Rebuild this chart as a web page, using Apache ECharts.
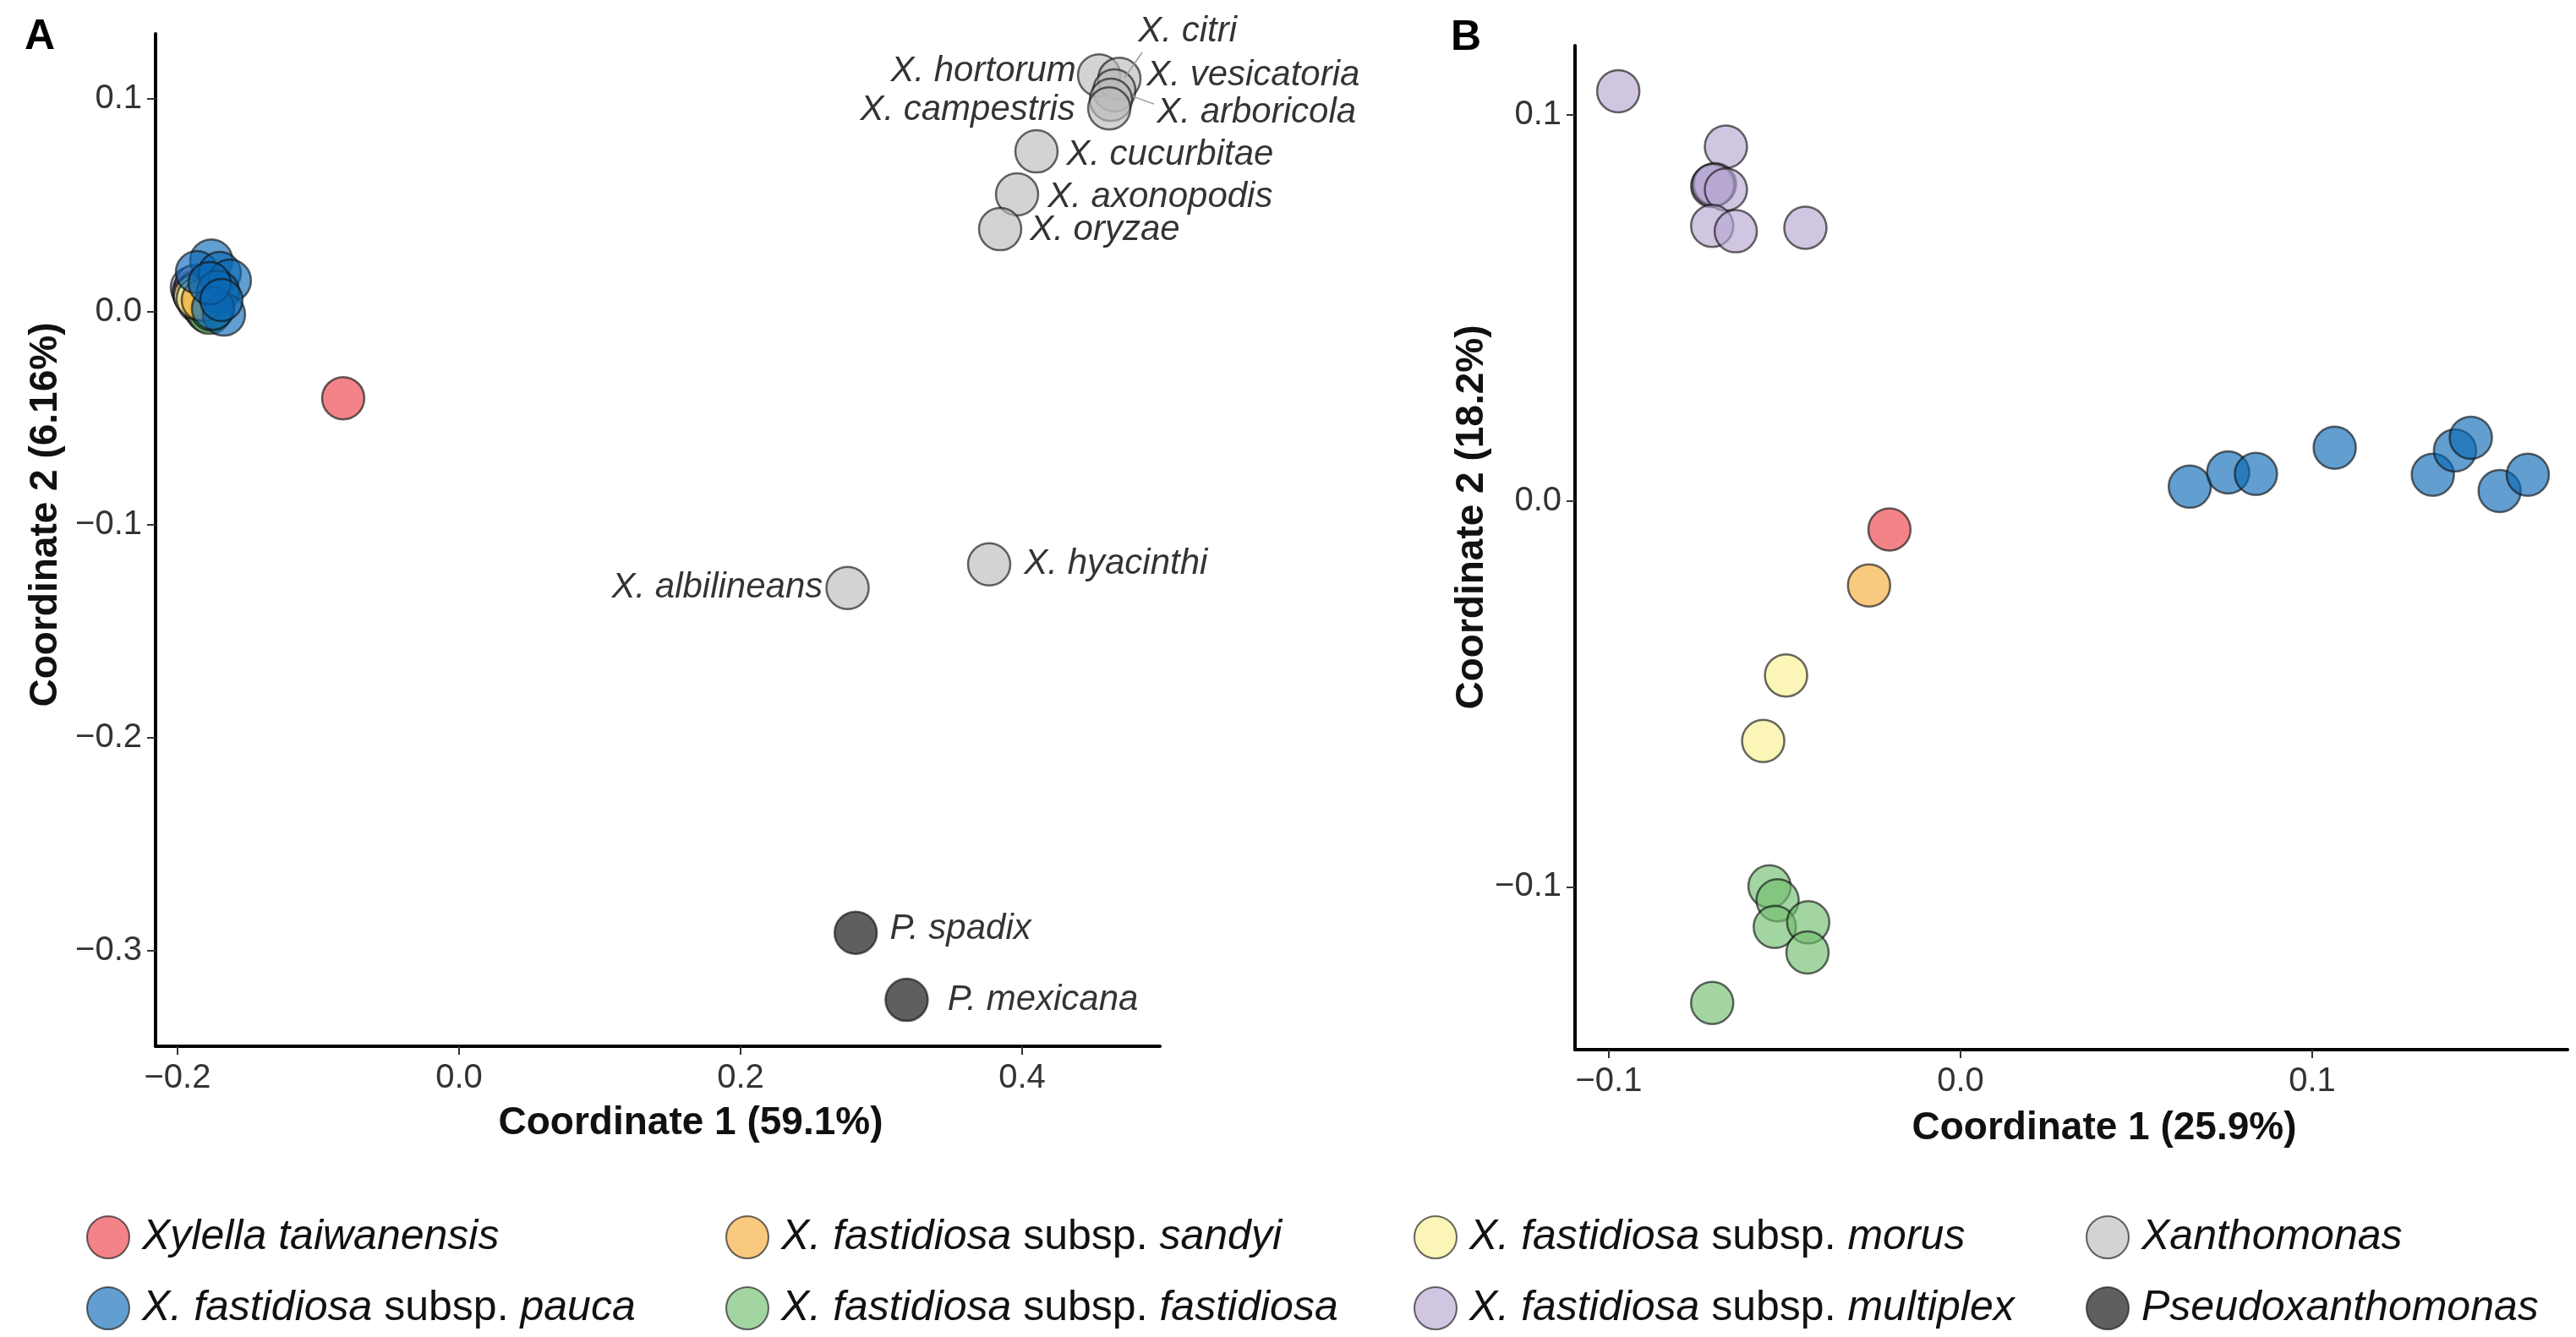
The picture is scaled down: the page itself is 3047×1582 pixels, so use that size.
<!DOCTYPE html>
<html><head><meta charset="utf-8">
<script src="https://cdn.jsdelivr.net/npm/echarts@6/dist/echarts.min.js"></script>
<style>html,body{margin:0;padding:0;background:#fff}#c{width:3047px;height:1582px}</style>
</head><body><div id="c"></div>
<script>
// ---------- group names ----------
const TAI = 'Xylella taiwanensis';
const PAU = 'X. fastidiosa subsp. pauca';
const SAN = 'X. fastidiosa subsp. sandyi';
const FAS = 'X. fastidiosa subsp. fastidiosa';
const MOR = 'X. fastidiosa subsp. morus';
const MUL = 'X. fastidiosa subsp. multiplex';
const XAN = 'Xanthomonas';
const PSE = 'Pseudoxanthomonas';

// ---------- Panel A data (Coordinate 1, Coordinate 2) ----------
const taiwanensisA = [[-0.0823, -0.0405]];
const multiplexA = [[-0.1898, 0.0115], [-0.1886, 0.0095], [-0.1868, 0.0123], [-0.1850, 0.0048], [-0.1832, 0.0067],
                    [-0.1880, 0.0083], [-0.1820, 0.0036], [-0.1844, 0.0099], [-0.1814, 0.0028]];
const fastidiosaA = [[-0.1802, 0.0016], [-0.1790, 0.0004], [-0.1778, 0.0028], [-0.1796, 0.0044], [-0.1772, -0.0004], [-0.1760, 0.0012]];
const morusA = [[-0.1874, 0.0075], [-0.1856, 0.0063]];
const sandyiA = [[-0.1820, 0.0056]];
const paucaA = [[-0.1760, 0.0242], [-0.1862, 0.0187], [-0.1700, 0.0183], [-0.1628, 0.0147], [-0.1712, 0.0095],
                [-0.1670, -0.0012], [-0.1748, 0.0016], [-0.1772, 0.0135], [-0.1688, 0.0056]];
const xanthomonasNames = ['X. hortorum', 'X. vesicatoria', 'X. citri', 'X. arboricola', 'X. campestris',
                          'X. cucurbitae', 'X. axonopodis', 'X. oryzae', 'X. hyacinthi', 'X. albilineans'];
const xanthomonasA = [[0.4547, 0.1111], [0.4691, 0.1095], [0.4655, 0.1040], [0.4631, 0.0996], [0.4619, 0.0956],
                      [0.4102, 0.0754], [0.3964, 0.0552], [0.3844, 0.0389], [0.3766, -0.1185], [0.2760, -0.1296]];
const pseudoNames = ['P. spadix', 'P. mexicana'];
const pseudoA = [[0.2818, -0.2915], [0.3180, -0.3230]];

// ---------- Panel B data ----------
const taiwanensisB = [[-0.0202, -0.0074]];
const sandyiB = [[-0.0260, -0.0219]];
const morusB = [[-0.0496, -0.0452], [-0.0561, -0.0622]];
const fastidiosaB = [[-0.0543, -0.0999], [-0.0520, -0.1035], [-0.0528, -0.1104], [-0.0433, -0.1092], [-0.0435, -0.1170], [-0.0706, -0.1301]];
const multiplexB = [[-0.0973, 0.1062], [-0.0667, 0.0918], [-0.0706, 0.0816], [-0.0698, 0.0821], [-0.0703, 0.0819],
                    [-0.0667, 0.0807], [-0.0706, 0.0713], [-0.0639, 0.0699], [-0.0441, 0.0708]];
const paucaB = [[0.0652, 0.0037], [0.0761, 0.0074], [0.0840, 0.0070], [0.1064, 0.0138], [0.1343, 0.0068],
                [0.1406, 0.0131], [0.1451, 0.0164], [0.1533, 0.0026], [0.1613, 0.0068]];

// ---------- tick labels ----------
const ticksAx = [-0.2, 0.0, 0.2, 0.4];
const ticksAy = [-0.3, -0.2, -0.1, 0.0, 0.1];
const ticksBx = [-0.1, 0.0, 0.1];
const ticksBy = [-0.1, 0.0, 0.1];

// ---------- styles ----------
const FONT = "'Liberation Sans', Arial, Helvetica, sans-serif";
const colors = {};
colors[TAI] = 'rgba(236,61,71,0.8)';
colors[PAU] = 'rgba(9,104,180,0.8)';
colors[SAN] = 'rgba(246,170,54,0.8)';
colors[FAS] = 'rgba(111,190,109,0.8)';
colors[MOR] = 'rgba(249,240,143,0.8)';
colors[MUL] = 'rgba(182,166,209,0.8)';
colors[XAN] = 'rgba(186,186,186,0.8)';
colors[PSE] = 'rgba(10,10,10,0.82)';
const BORDER = 'rgba(17,17,17,0.8)';

// label placement: [side, distance, offset]
const labelLayout = {
  'X. hortorum': ['left', 1, [0, -5]],
  'X. vesicatoria': ['right', 6, [0, -4]],
  'X. citri': ['right', 2, [0, -70]],
  'X. arboricola': ['right', 28, [0, 15]],
  'X. campestris': ['left', 14, [0, 2]],
  'X. cucurbitae': ['right', 9, [0, 4]],
  'X. axonopodis': ['right', 10, [0, 3]],
  'X. oryzae': ['right', 9, [0, 1]],
  'X. hyacinthi': ['right', 15, [0, 0]],
  'X. albilineans': ['left', 3, [0, 0]],
  'P. spadix': ['right', 14, [0, -4]],
  'P. mexicana': ['right', 22, [0, 0]]
};

function labelled(names, vals) {
  return vals.map((v, i) => {
    const s = labelLayout[names[i]];
    return { value: v, name: names[i],
      label: { show: true, position: s[0], distance: s[1], offset: s[2], formatter: '{b}',
               color: '#000', fontFamily: FONT, fontSize: 42, fontStyle: 'italic' } };
  });
}

function scatter(name, data, gi) {
  return {
    type: 'scatter', name: name, data: data,
    xAxisIndex: gi, yAxisIndex: gi,
    symbol: 'circle', symbolSize: 50,
    itemStyle: { color: colors[name], borderColor: BORDER, borderWidth: 2.5 },
    label: { show: false, fontFamily: FONT, fontSize: 42, fontStyle: 'italic', color: '#000' },
    emphasis: { disabled: true },
    z: 2
  };
}

function fmt(v) {
  const r = Math.round(v * 10) / 10;
  return (r < 0 ? '\u2212' : '') + Math.abs(r).toFixed(1);
}

function axis(gi, min, max, ticks, name, isX, nameGap, namePad) {
  return {
    type: 'value', gridIndex: gi, min: min, max: max,
    position: isX ? 'bottom' : 'left',
    axisLine: { show: true, onZero: false, lineStyle: { color: '#000', width: 4 } },
    axisTick: { show: true, customValues: ticks, length: 10, lineStyle: { color: '#333', width: 2 } },
    axisLabel: { customValues: ticks, formatter: fmt, fontFamily: FONT, fontSize: 40, color: '#333', margin: isX ? 18 : 16 },
    splitLine: { show: false },
    name: name, nameLocation: 'middle', nameGap: nameGap,
    nameTextStyle: { fontFamily: FONT, fontSize: 46, fontWeight: 'bold', color: '#111', padding: namePad }
  };
}

// legend layout: 2 rows x 4 columns
const legendOrder = [TAI, SAN, MOR, XAN, PAU, FAS, MUL, PSE];
const legendLefts = [102, 858, 1672, 2467];
const legendTops = [1438, 1522];

function legendFmt(n) {
  const k = n.indexOf(' subsp. ');
  const g = '{g| }';
  if (k < 0) return g + '{i|' + n + '}';
  return g + '{i|' + n.slice(0, k) + '}{n| subsp. }{i|' + n.slice(k + 8) + '}';
}

const chart = echarts.init(document.getElementById('c'), null, { renderer: 'canvas' });

const option = {
  animation: false,
  backgroundColor: '#fff',
  title: [
    { text: 'A', left: 24, top: 14, textStyle: { fontFamily: FONT, fontSize: 50, fontWeight: 'bold', color: '#000' } },
    { text: 'B', left: 1711, top: 15, textStyle: { fontFamily: FONT, fontSize: 50, fontWeight: 'bold', color: '#000' } }
  ],
  grid: [
    { left: 184, top: 40, width: 1188, height: 1198 },
    { left: 1863, top: 54, width: 1174, height: 1188 }
  ],
  xAxis: [
    axis(0, -0.2156, 0.4979, ticksAx, 'Coordinate 1 (59.1%)', true, 68, [0, 0, 0, 78]),
    axis(1, -0.1096, 0.1726, ticksBx, 'Coordinate 1 (25.9%)', true, 70, [0, 0, 0, 78])
  ],
  yAxis: [
    axis(0, -0.3448, 0.1306, ticksAy, 'Coordinate 2 (6.16%)', false, 107, [0, 0, 0, 60]),
    axis(1, -0.1422, 0.1180, ticksBy, 'Coordinate 2 (18.2%)', false, 89, [0, 0, 0, 72])
  ],
  legend: legendOrder.map((n, i) => ({
    data: [n], orient: 'horizontal',
    left: legendLefts[i % 4], top: legendTops[Math.floor(i / 4)],
    itemWidth: 50, itemHeight: 50, icon: 'circle', padding: 0,
    selectedMode: false,
    formatter: legendFmt,
    textStyle: {
      fontFamily: FONT, fontSize: 50, color: '#111',
      rich: {
        g: { width: 10, fontSize: 50 },
        i: { fontFamily: FONT, fontSize: 50, fontStyle: 'italic', color: '#111' },
        n: { fontFamily: FONT, fontSize: 50, color: '#111' }
      }
    }
  })),
  series: [
    scatter(TAI, taiwanensisA, 0),
    scatter(MUL, multiplexA, 0),
    scatter(FAS, fastidiosaA, 0),
    scatter(MOR, morusA, 0),
    scatter(SAN, sandyiA, 0),
    scatter(XAN, labelled(xanthomonasNames, xanthomonasA), 0),
    scatter(PSE, labelled(pseudoNames, pseudoA), 0),
    scatter(PAU, paucaA, 0),
    scatter(TAI, taiwanensisB, 1),
    scatter(SAN, sandyiB, 1),
    scatter(MOR, morusB, 1),
    scatter(FAS, fastidiosaB, 1),
    scatter(MUL, multiplexB, 1),
    scatter(PAU, paucaB, 1)
  ]
};
chart.setOption(option);

// leader lines (ggrepel-style segments) for crowded labels
const citriPx = chart.convertToPixel({ gridIndex: 0 }, xanthomonasA[2]);
const arborPx = chart.convertToPixel({ gridIndex: 0 }, xanthomonasA[3]);
chart.setOption({
  graphic: [
    { type: 'line', z: 100, shape: { x1: citriPx[0] + 12, y1: citriPx[1] - 15, x2: citriPx[0] + 33, y2: citriPx[1] - 45 },
      style: { stroke: '#9a9a9a', lineWidth: 1.5 } },
    { type: 'line', z: 100, shape: { x1: arborPx[0] + 26, y1: arborPx[1] - 4, x2: arborPx[0] + 51, y2: arborPx[1] + 5 },
      style: { stroke: '#9a9a9a', lineWidth: 1.5 } }
  ]
});
</script>
</body></html>
